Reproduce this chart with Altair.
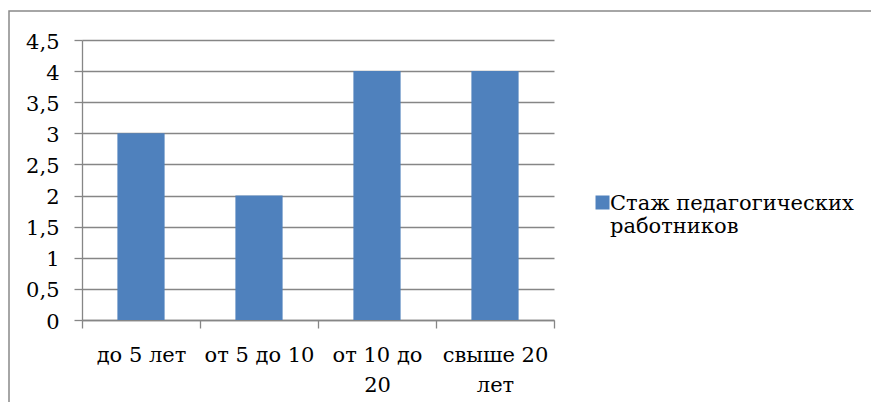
import altair as alt
import pandas as pd

categories = ["до 5 лет", "от 5 до 10", "от 10 до\n20", "свыше 20\nлет"]
values = [3, 2, 4, 4]
series_name = "Стаж педагогических работников"
y_ticks = [0, 0.5, 1, 1.5, 2, 2.5, 3, 3.5, 4, 4.5]

df = pd.DataFrame({"cat": categories, "val": values, "series": [series_name] * len(categories)})

W, H = 472, 280
FONT = "DejaVu Serif"
FS = 21
GRID = "#868686"

bars = alt.Chart(df).mark_bar(color="#4F81BD", width=alt.RelativeBandSize(0.4)).encode(
    x=alt.X(
        "cat:N",
        sort=categories,
        scale=alt.Scale(paddingInner=0, paddingOuter=0),
        axis=alt.Axis(
            title=None,
            labelAngle=0,
            tickBand="extent",
            tickSize=8,
            tickColor=GRID,
            tickWidth=1.3,
            domainColor=GRID,
            domainWidth=1.3,
            labelFontSize=FS,
            labelColor="black",
            labelPadding=16,
            labelBaseline="top",
            labelLineHeight=30,
            labelLimit=300,
            labelOverlap=False,
            labelExpr="split(datum.label, '\\n')",
            grid=False,
        ),
    ),
    y=alt.Y(
        "val:Q",
        scale=alt.Scale(domain=[0, 4.5], nice=False),
        axis=alt.Axis(
            title=None,
            values=y_ticks,
            labelExpr="replace(toString(datum.value), '.', ',')",
            tickSize=8,
            tickColor=GRID,
            tickWidth=1.3,
            domainColor=GRID,
            domainWidth=1.3,
            gridColor=GRID,
            gridWidth=1.3,
            labelFontSize=FS,
            labelColor="black",
            labelPadding=15,
            labelOffset=2,
            labelOverlap=False,
        ),
    ),
    color=alt.Color(
        "series:N",
        scale=alt.Scale(range=["#4F81BD"]),
        legend=alt.Legend(
            title=None,
            orient="none",
            legendX=507,
            legendY=159,
            padding=0,
            symbolType="M-0.57,-2H1.43V0H-0.57Z",
            symbolSize=196,
            symbolStrokeWidth=0,
            symbolOpacity=1,
            labelFontSize=FS,
            labelColor="black",
            labelBaseline="alphabetic",
            labelLimit=400,
            labelOffset=0,
            labelExpr="[substring(datum.label, 0, lastindexof(datum.label, ' ')), substring(datum.label, lastindexof(datum.label, ' ') + 1)]",
        ),
    ),
)

border_df = pd.DataFrame({"b": [1]})
border = alt.Chart(border_df).mark_rect(
    fillOpacity=0, stroke="#898989", strokeWidth=1.5
).encode(
    x=alt.value(-73),
    x2=alt.value(W + 500),
    y=alt.value(-29),
    y2=alt.value(H + 300),
)

chart = alt.layer(border, bars).properties(
    width=W,
    height=H,
    padding={"left": 74, "top": 32, "right": 317, "bottom": 82},
    autosize=alt.AutoSizeParams(type="none"),
    background="white",
).configure(
    font=FONT
).configure_axis(
    labelFont=FONT
).configure_legend(
    labelFont=FONT
).configure_view(strokeWidth=0)

chart.save("out.html", embed_options={"renderer": "svg", "actions": False})
